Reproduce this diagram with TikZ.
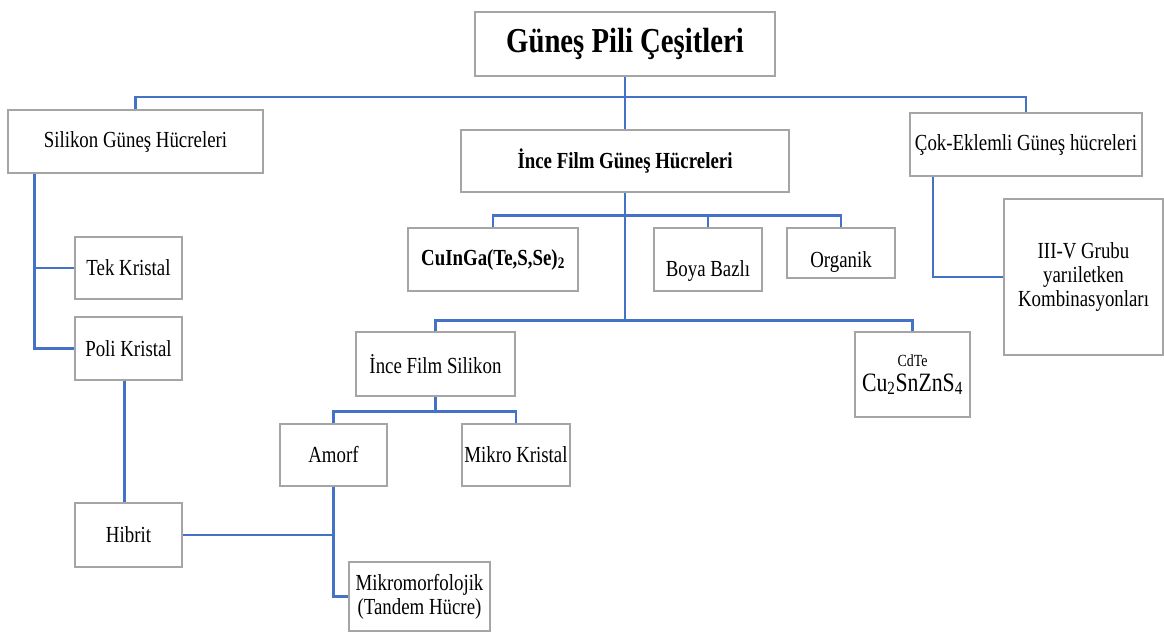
\documentclass[tikz,border=0pt]{standalone}
\usepackage{fontspec}
\setmainfont{Liberation Serif}[FakeStretch=0.82]
\definecolor{linkblue}{HTML}{4472C4}
\definecolor{boxgray}{HTML}{A5A5A5}
\newcommand{\nudge}[2]{\raisebox{#1}[\height][\depth]{#2}}
\begin{document}
\begin{tikzpicture}[x=1pt,y=-1pt,
    box/.style 2 args={draw=boxgray,line width=1.3pt,fill=white,inner sep=1pt,
      minimum width=#1,minimum height=#2,align=center,font=\fontsize{23}{24}\selectfont},
    link/.style={draw=linkblue,line width=2.5pt}]
  \useasboundingbox (0,0) rectangle (1164,632);
  % kutular
  \node[box={300}{64},font=\fontsize{35}{38}\selectfont\bfseries] (title) at (625,44) {Güneş Pili Çeşitleri};
  \node[box={255}{63}] (silikon) at (135.5,141.5) {Silikon Güneş Hücreleri};
  \node[box={328}{62},font=\fontsize{23}{24}\selectfont\bfseries] (ince) at (625,161) {İnce Film Güneş Hücreleri};
  \node[box={232}{63}] (cok) at (1026,144.5) {Çok-Eklemli Güneş hücreleri};
  \node[box={159}{156}] (iiiv) at (1083.5,277) {III-V Grubu\\yarıiletken\\Kombinasyonları};
  \node[box={107}{62}] (tek) at (128.5,268) {Tek Kristal};
  \node[box={107}{63}] (poli) at (128.5,348.5) {Poli Kristal};
  \node[box={107}{64}] (hibrit) at (128.5,535) {Hibrit};
  \node[box={170}{63},font=\fontsize{23}{24}\selectfont\bfseries] (cuinga) at (493,259.5) {CuInGa(Te,S,Se)\textsubscript{2}};
  \node[box={108}{63}] (boya) at (708,259.5) {\nudge{-11pt}{Boya Bazlı}};
  \node[box={108}{50}] (organik) at (841,253) {\nudge{-9pt}{Organik}};
  \node[box={159}{64}] (incesi) at (435.5,364) {İnce Film Silikon};
  \node[box={115}{85}] (cdte) at (912.5,374.5) {{\fontsize{17}{18}\selectfont CdTe}\\[1pt]{\fontsize{26.5}{27}\selectfont Cu\textsubscript{2}SnZnS\textsubscript{4}}};
  \node[box={107}{62}] (amorf) at (333.5,455) {Amorf};
  \node[box={108}{62}] (mikro) at (516,455) {Mikro Kristal};
  \node[box={141}{69}] (mikromorf) at (419.5,596.5) {Mikromorfolojik\\(Tandem Hücre)};
  % baglantilar
  \coordinate (topbus) at (625,97);
  \draw[link] (title.south) -- (ince.north);
  \draw[link] (silikon.north) |- (topbus) -| (cok.north);
  \coordinate (sildrop) at ([xshift=-40pt]silikon.south -| tek.west);
  \draw[link] (sildrop) |- (poli.west);
  \draw[link] (sildrop |- tek.west) -- (tek.west);
  \draw[link] ([xshift=-4pt]poli.south) -- ([xshift=-4pt]hibrit.north);
  \draw[link] (hibrit.east) -- (hibrit.east -| amorf.south);
  \draw[link] (amorf.south) |- (mikromorf.west);
  \draw[link] (cuinga.north) -- ++(0,-12) -| (organik.north);
  \draw[link] (boya.north) -- ++(0,-12);
  \draw[link] (ince.south) -- ++(0,128) coordinate (filmlow);
  \draw[link] (incesi.north) |- (filmlow) -| (cdte.north);
  \draw[link] (incesi.south) -- ++(0,15) coordinate (sibus);
  \draw[link] (amorf.north) |- (sibus) -| (mikro.north);
  \draw[link] ([xshift=-93pt]cok.south) |- (iiiv.west);
\end{tikzpicture}
\end{document}
